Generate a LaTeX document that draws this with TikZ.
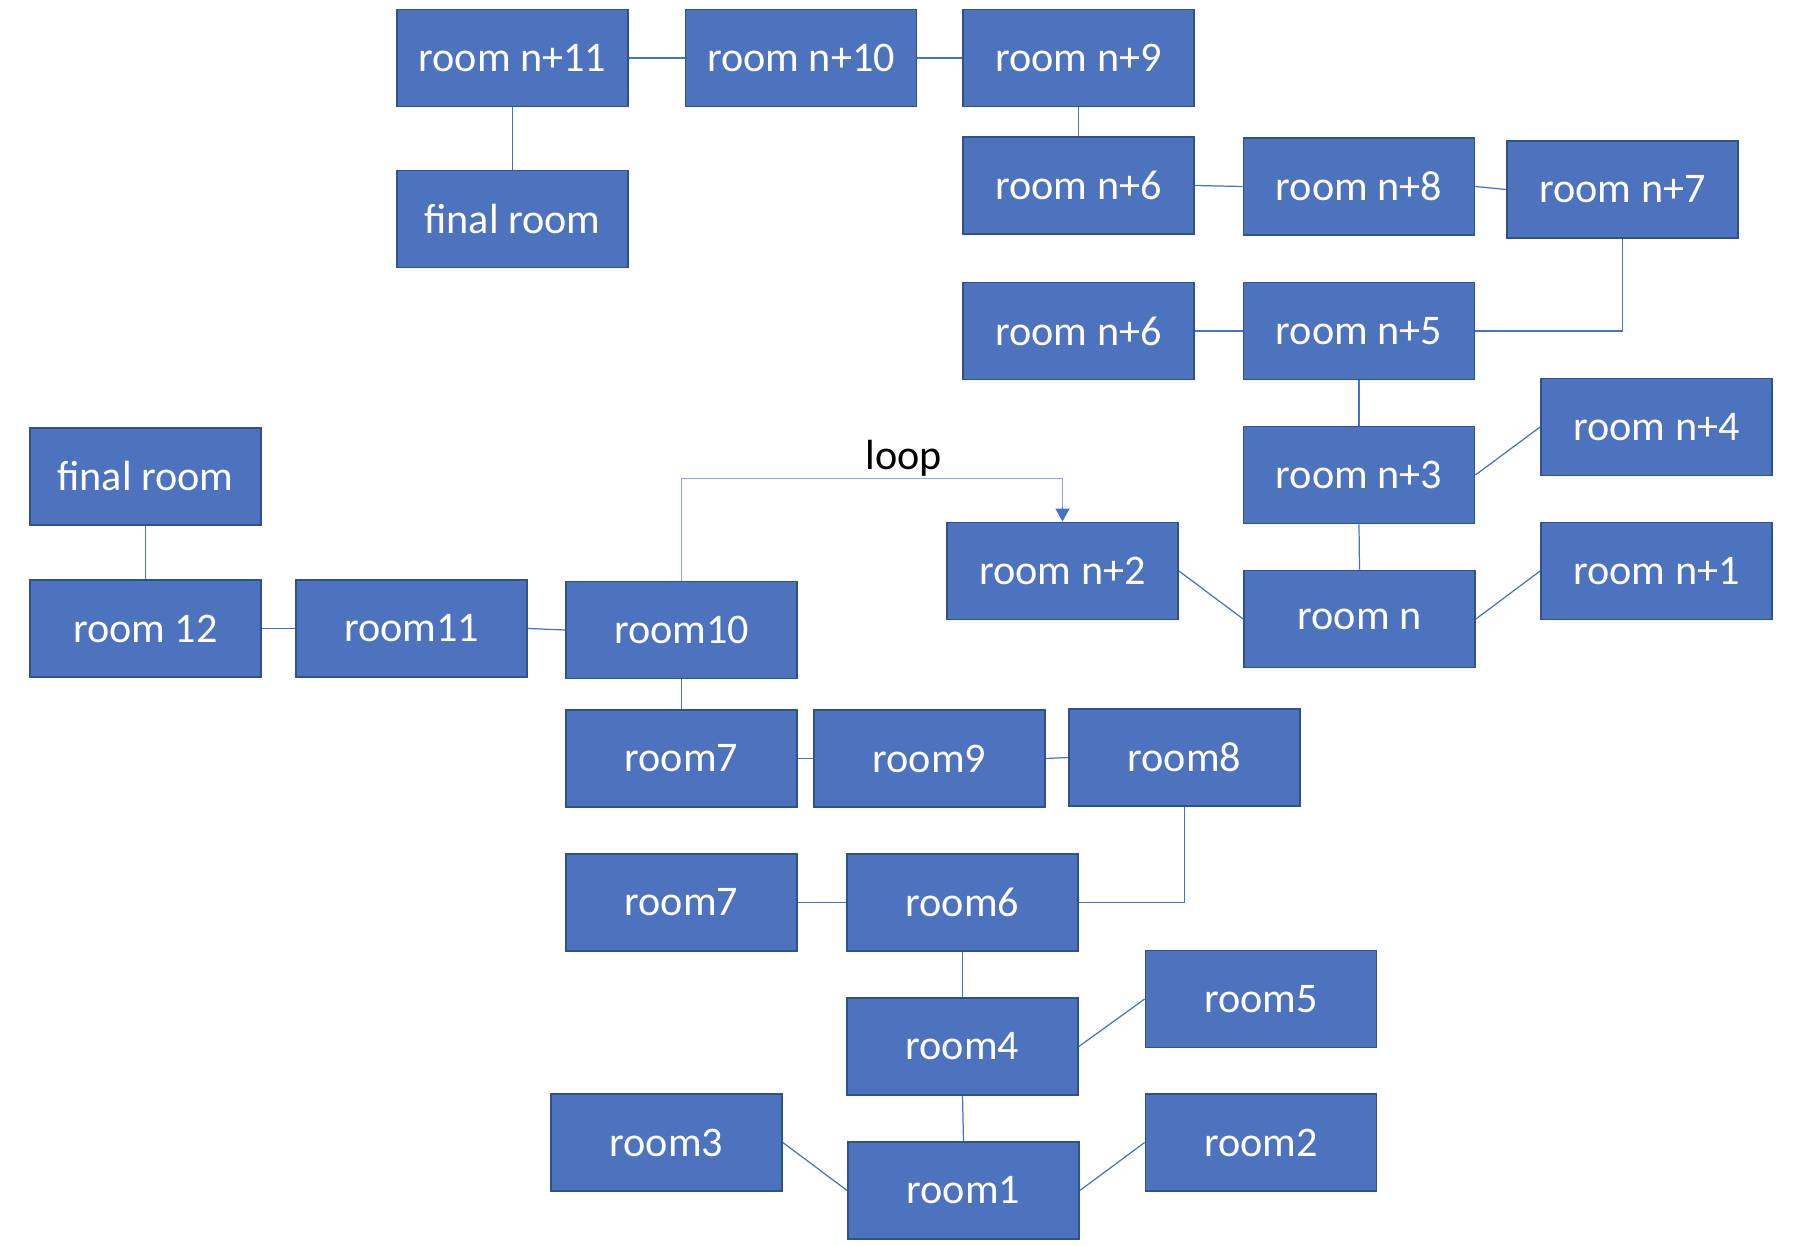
\documentclass[tikz,border=0pt]{standalone}
\usepackage{fontspec}
\setmainfont{Carlito}
\usetikzlibrary{arrows.meta}
\definecolor{roomfill}{HTML}{4E73BE}
\definecolor{roomedge}{HTML}{2F528F}
\definecolor{linkcol}{HTML}{4472C4}
\definecolor{loopcol}{HTML}{8FAADC}
\tikzset{
    room/.style={draw=roomedge, line width=0.5pt, fill=roomfill, text=white, minimum width=23.1mm, minimum height=9.7mm, inner sep=0pt, font=\fontsize{12}{14}\selectfont},
    link/.style={draw=linkcol, line width=0.35pt}
}
\begin{document}
\begin{tikzpicture}[x=0.1mm, y=-0.1mm]
    \useasboundingbox (0, 0) rectangle (1810, 1246);
    \node[room] (n11) at (512.5, 58) {room n+11};
    \node[room] (fina) at (512.5, 219) {final room};
    \node[room] (n10) at (801, 58) {room n+10};
    \node[room] (n9) at (1078.5, 58) {room n+9};
    \node[room] (n6a) at (1078.5, 185.5) {room n+6};
    \node[room] (n8) at (1359, 186.5) {room n+8};
    \node[room] (n7) at (1622.5, 189.5) {room n+7};
    \node[room] (n6b) at (1078.5, 331) {room n+6};
    \node[room] (n5) at (1359, 331) {room n+5};
    \node[room] (n4) at (1656.5, 427) {room n+4};
    \node[room] (n3) at (1359, 475) {room n+3};
    \node[room] (n2) at (1062.5, 571) {room n+2};
    \node[room] (n0) at (1359.5, 619) {room n};
    \node[room] (n1) at (1656.5, 571) {room n+1};
    \node[room] (finb) at (145.5, 476.5) {final room};
    \node[room] (r12) at (145.5, 628.5) {room 12};
    \node[room] (r11) at (411.5, 628.5) {room11};
    \node[room] (r10) at (681.5, 630) {room10};
    \node[room] (r7a) at (681.5, 758.5) {room7};
    \node[room] (r9) at (929.5, 758.5) {room9};
    \node[room] (r8) at (1184.5, 757.5) {room8};
    \node[room] (r7b) at (681.5, 902.5) {room7};
    \node[room] (r6) at (962.5, 902.5) {room6};
    \node[room] (r5) at (1261, 999) {room5};
    \node[room] (r4) at (962.5, 1046.5) {room4};
    \node[room] (r3) at (666.5, 1142.5) {room3};
    \node[room] (r2) at (1261, 1142.5) {room2};
    \node[room] (r1) at (963.5, 1190.5) {room1};
    \draw[link] (n11) -- (n10);
    \draw[link] (n10) -- (n9);
    \draw[link] (n11) -- (fina);
    \draw[link] (n9) -- (n6a);
    \draw[link] (n6a.east) -- (n8.west);
    \draw[link] (n8.east) -- (n7.west);
    \draw[link] (n7.south) |- (n5.east);
    \draw[link] (n6b) -- (n5);
    \draw[link] (n5) -- (n3);
    \draw[link] (n3.east) -- (n4.west);
    \draw[link] (n3.south) -- (n0.north);
    \draw[link] (n2.east) -- (n0.west);
    \draw[link] (n0.east) -- (n1.west);
    \draw[link] (finb) -- (r12);
    \draw[link] (r12) -- (r11);
    \draw[link] (r11.east) -- (r10.west);
    \draw[link] (r10) -- (r7a);
    \draw[link] (r7a.east) -- (r9.west);
    \draw[link] (r9.east) -- (r8.west);
    \draw[link] (r8.south) |- (r6.east);
    \draw[link] (r7b) -- (r6);
    \draw[link] (r6) -- (r4);
    \draw[link] (r4.east) -- (r5.west);
    \draw[link] (r4.south) -- (r1.north);
    \draw[link] (r3.east) -- (r1.west);
    \draw[link] (r1.east) -- (r2.west);
    \draw[draw=loopcol, line width=0.35pt] (r10.north) -- ++(0, -102) coordinate (bend) -| ([yshift=1.5mm]n2.north) coordinate (tip);
    \draw[link, -{Triangle[length=1.3mm, width=1.4mm]}] (tip) -- (n2.north);
    \node[font=\fontsize{12}{14}\selectfont] (looplab) at (904, 458) {loop};
\end{tikzpicture}
\end{document}
